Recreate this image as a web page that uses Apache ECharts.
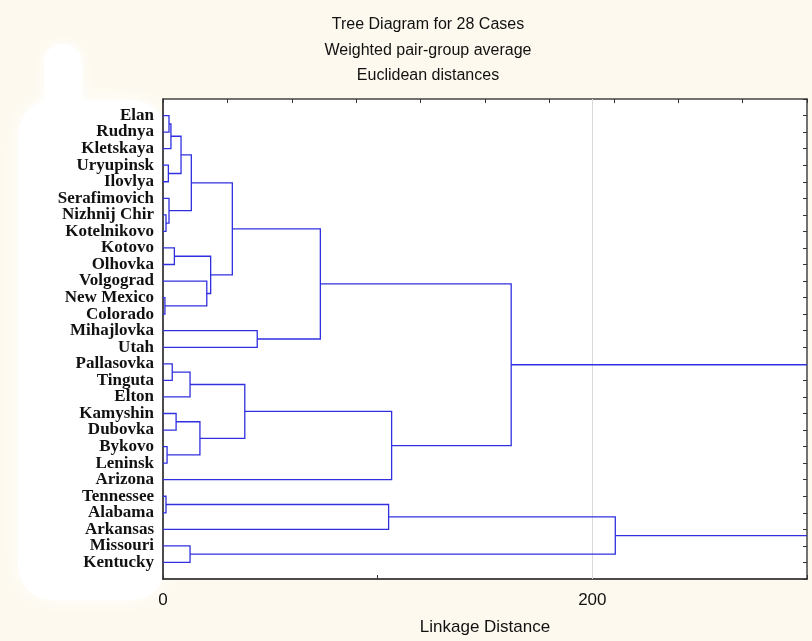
<!DOCTYPE html>
<html>
<head>
<meta charset="utf-8">
<script src="https://cdn.jsdelivr.net/npm/echarts@6/dist/echarts.min.js"></script>
<style>
html,body{margin:0;padding:0;background:#fdf9ee;}
#chart{width:812px;height:641px;}
</style>
</head>
<body>
<div id="chart"></div>
<script>
// Leaf labels in dendrogram order (top to bottom)
const labels = ["Elan","Rudnya","Kletskaya","Uryupinsk","Ilovlya","Serafimovich","Nizhnij Chir","Kotelnikovo","Kotovo","Olhovka","Volgograd","New Mexico","Colorado","Mihajlovka","Utah","Pallasovka","Tinguta","Elton","Kamyshin","Dubovka","Bykovo","Leninsk","Arizona","Tennessee","Alabama","Arkansas","Missouri","Kentucky"];
// Linkage: indices < 28 are leaves, >= 28 refer to earlier merges (28 + k)
const mergeA = [0, 28, 3, 29, 6, 5, 31, 8, 11, 10, 35, 34, 13, 39, 15, 42, 18, 20, 44, 43, 47, 41, 23, 50, 26, 51, 49];
const mergeB = [1, 2, 4, 30, 7, 32, 33, 9, 12, 36, 37, 38, 14, 40, 16, 17, 19, 21, 45, 46, 22, 48, 24, 25, 27, 52, 53];
const mergeHeight = [2.8, 3.7, 2.5, 8.4, 1.4, 2.8, 13.2, 5.3, 0.9, 20.4, 22.2, 32.3, 43.9, 73.3, 4.3, 12.6, 6.1, 1.9, 17.2, 38.1, 106.5, 162.2, 1.4, 105.1, 12.6, 210.7, 330];
const xTickLabels = {0: "0", 200: "200"};

const n = labels.length;
const nodeH = [], nodeY = [];
for (let i = 0; i < n; i++) { nodeH[i] = 0; nodeY[i] = i + 1; }
const links = [];
for (let k = 0; k < mergeA.length; k++) {
  const a = mergeA[k], b = mergeB[k], h = mergeHeight[k];
  links.push([nodeH[a], nodeY[a], h, nodeH[b], nodeY[b]]);
  nodeH[n + k] = h;
  nodeY[n + k] = (nodeY[a] + nodeY[b]) / 2;
}

const chart = echarts.init(document.getElementById('chart'));
chart.setOption({
  backgroundColor: '#fdf9ee',
  animation: false,
  graphic: [
    {type: 'rect', z: -10, shape: {x: 18, y: 100, width: 148, height: 500, r: 34}, style: {fill: '#ffffff', shadowBlur: 22, shadowColor: '#ffffff'}},
    {type: 'rect', z: -10, shape: {x: 44, y: 44, width: 38, height: 90, r: 18}, style: {fill: '#ffffff', shadowBlur: 16, shadowColor: '#ffffff'}},
    {type: 'rect', z: -10, shape: {x: 163, y: 99, width: 644, height: 481}, style: {fill: '#ffffff'}}
  ],
  title: {
    text: 'Tree Diagram for 28 Cases\nWeighted pair-group average\nEuclidean distances',
    left: 423, top: 7, textAlign: 'center',
    textStyle: {fontFamily: 'Liberation Sans', fontSize: 16, fontWeight: 'normal', color: '#111', lineHeight: 25.5}
  },
  grid: {left: 163, top: 99, right: 5, bottom: 61, containLabel: false},
  xAxis: [
    {
      type: 'value', position: 'bottom', min: 0, max: 300, interval: 100,
      name: 'Linkage Distance', nameLocation: 'middle', nameGap: 40,
      nameTextStyle: {fontFamily: 'Liberation Sans', fontSize: 17, color: '#111'},
      axisLine: {show: true, onZero: false, lineStyle: {color: '#111', width: 1.5}},
      axisTick: {show: true, inside: true, length: 4, lineStyle: {color: '#333'}},
      axisLabel: {margin: 13, fontFamily: 'Liberation Sans', fontSize: 17, color: '#111',
        formatter: v => (xTickLabels[v] !== undefined ? xTickLabels[v] : '')},
      splitLine: {show: false}
    },
    {
      type: 'value', position: 'top', min: 0, max: 300, interval: 30,
      axisLine: {show: true, onZero: false, lineStyle: {color: '#444', width: 1.5}},
      axisTick: {show: true, inside: true, length: 4, lineStyle: {color: '#333'}},
      axisLabel: {show: false}, splitLine: {show: false}
    }
  ],
  yAxis: [
    {
      type: 'value', position: 'left', min: 0, max: 29, interval: 1, inverse: true,
      axisLine: {show: true, onZero: false, lineStyle: {color: '#111', width: 1.5}},
      axisTick: {show: false},
      axisLabel: {margin: 9, fontFamily: 'Liberation Serif', fontWeight: 'bold', fontSize: 17, color: '#111',
        formatter: v => (v >= 1 && v <= n ? labels[v - 1] : '')},
      splitLine: {show: false}
    },
    {
      type: 'value', position: 'right', min: 0, max: 29, interval: 1, inverse: true,
      axisLine: {show: true, onZero: false, lineStyle: {color: '#444', width: 1.5}},
      axisTick: {show: true, inside: true, length: 4, lineStyle: {color: '#333'}},
      axisLabel: {show: false}, splitLine: {show: false}
    }
  ],
  series: [
    {
      type: 'line', data: [], z: 1, silent: true,
      markLine: {silent: true, symbol: 'none', label: {show: false},
        lineStyle: {color: '#d9d9d9', width: 1, type: 'solid'},
        data: [{xAxis: 200}]}
    },
    {
      type: 'custom', z: 5, clip: true, silent: true,
      data: links,
      renderItem: function (params, api) {
        const p1 = api.coord([api.value(0), api.value(1)]);
        const p2 = api.coord([api.value(2), api.value(1)]);
        const p3 = api.coord([api.value(2), api.value(4)]);
        const p4 = api.coord([api.value(3), api.value(4)]);
        return {
          type: 'polyline',
          shape: {points: [p1, p2, p3, p4]},
          style: {fill: 'none', stroke: '#3030e0', lineWidth: 1.3}
        };
      },
      encode: {x: [0, 2, 3], y: [1, 4]}
    }
  ]
});
</script>
</body>
</html>
